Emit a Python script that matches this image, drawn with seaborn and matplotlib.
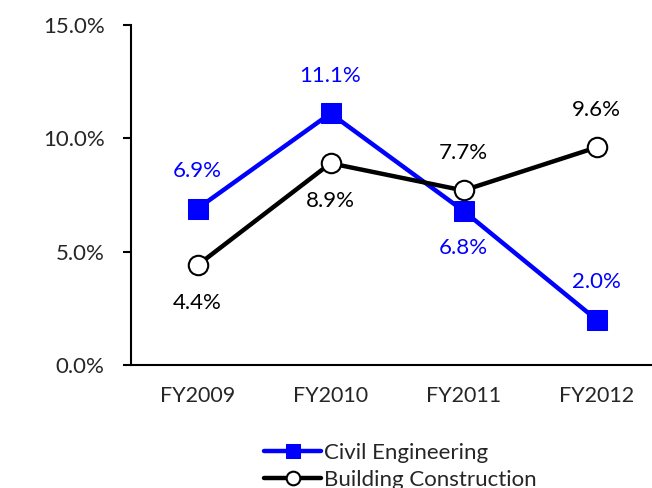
import matplotlib
matplotlib.use("Agg")
import matplotlib.pyplot as plt
import seaborn as sns
import pandas as pd
from matplotlib.ticker import FuncFormatter, FixedLocator

categories = ["FY2009", "FY2010", "FY2011", "FY2012"]
civil = [6.9, 11.1, 6.8, 2.0]
building = [4.4, 8.9, 7.7, 9.6]
civil_label_pos = ["above", "above", "below", "above"]
building_label_pos = ["below", "below", "above", "above"]
series_names = ["Civil Engineering", "Building Construction"]

sns.set_theme(style="white")
plt.rcParams["font.family"] = ["Lato", "DejaVu Sans"]
FS = 16

df = pd.DataFrame({
    "Year": categories * 2,
    "Value": civil + building,
    "Series": [series_names[0]] * 4 + [series_names[1]] * 4,
})

fig = plt.figure(figsize=(6.52, 4.88), dpi=100)
ax = fig.add_axes([131 / 652, (488 - 365) / 488, 532 / 652, 340 / 488])

sns.lineplot(data=df[df.Series == series_names[0]], x="Year", y="Value", ax=ax,
             color="#0000FF", lw=3.2, marker="s", markersize=14,
             markeredgecolor="#0000FF", label=series_names[0], sort=False)
sns.lineplot(data=df[df.Series == series_names[1]], x="Year", y="Value", ax=ax,
             color="black", lw=3.2, marker="o", markersize=14,
             markerfacecolor="white", markeredgecolor="black", markeredgewidth=1.5,
             label=series_names[1], sort=False)

for vals, poss, col in [(civil, civil_label_pos, "#0000FF"),
                        (building, building_label_pos, "black")]:
    for i, (v, p) in enumerate(zip(vals, poss)):
        off = 27 if p == "above" else -27
        ax.annotate(f"{v:.1f}%", (i, v), xytext=(0, off), textcoords="offset points",
                    ha="center", va="center", fontsize=FS, color=col)

ax.set_xlim(-0.5, 3.5)
ax.set_ylim(0, 15)
ax.set_yticks([0, 5, 10, 15])
ax.yaxis.set_major_formatter(FuncFormatter(lambda v, p: f"{v:.1f}%"))
ax.set_xticks(range(4))
ax.set_xticklabels(categories)
ax.xaxis.set_minor_locator(FixedLocator([-0.5, 0.5, 1.5, 2.5]))
ax.tick_params(axis="x", which="major", length=0, pad=15, labelsize=FS - 0.5)
ax.tick_params(axis="x", which="minor", direction="in", length=6, width=1.5, color="black")
ax.tick_params(axis="y", which="major", direction="out", length=6, width=1.5,
               color="black", pad=13, labelsize=FS, left=True)
ax.set_xlabel("")
ax.set_ylabel("")
for s in ["top", "right"]:
    ax.spines[s].set_visible(False)
for s in ["left", "bottom"]:
    ax.spines[s].set_color("black")
    ax.spines[s].set_linewidth(1.5)

ax.get_legend().remove()
h, l = ax.get_legend_handles_labels()
fig.legend(h, l, loc="upper center", bbox_to_anchor=(400 / 652, 1 - 432 / 488),
           frameon=False, fontsize=FS, handlelength=2.6, handletextpad=0.1,
           labelspacing=0.3, borderpad=0, markerscale=0.7)

fig.savefig("out.png", dpi=100)
